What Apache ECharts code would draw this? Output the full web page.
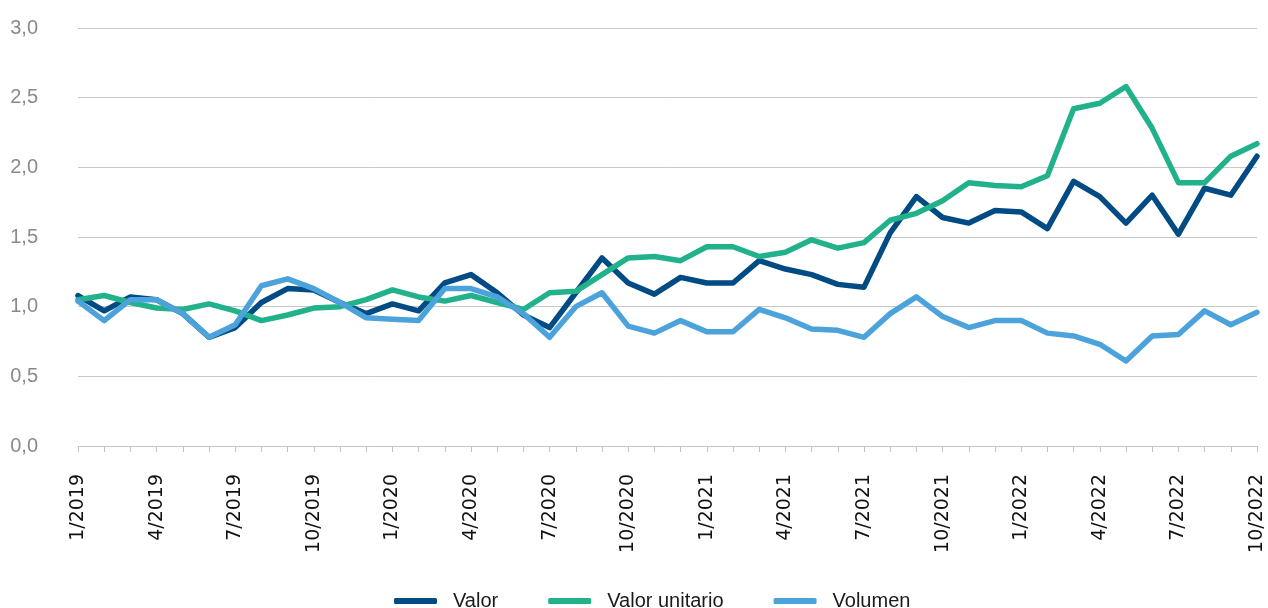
<!DOCTYPE html>
<html>
<head>
<meta charset="utf-8">
<script src="https://cdn.jsdelivr.net/npm/echarts@6/dist/echarts.min.js"></script>
<style>
  html, body { margin: 0; padding: 0; background: #fff; }
  #chart { width: 1268px; height: 608px; }
</style>
</head>
<body>
<div id="chart"></div>
<script>
var months = [
  '1/2019', '2/2019', '3/2019', '4/2019', '5/2019', '6/2019', '7/2019', '8/2019', '9/2019', '10/2019', '11/2019', '12/2019',
  '1/2020', '2/2020', '3/2020', '4/2020', '5/2020', '6/2020', '7/2020', '8/2020', '9/2020', '10/2020', '11/2020', '12/2020',
  '1/2021', '2/2021', '3/2021', '4/2021', '5/2021', '6/2021', '7/2021', '8/2021', '9/2021', '10/2021', '11/2021', '12/2021',
  '1/2022', '2/2022', '3/2022', '4/2022', '5/2022', '6/2022', '7/2022', '8/2022', '9/2022', '10/2022'
];

var valor = [
  1.08, 0.97, 1.07, 1.05, 0.95, 0.78, 0.85, 1.03, 1.13, 1.12, 1.03, 0.95,
  1.02, 0.97, 1.17, 1.23, 1.10, 0.94, 0.85, 1.10, 1.35, 1.17, 1.09, 1.21,
  1.17, 1.17, 1.33, 1.27, 1.23, 1.16, 1.14, 1.53, 1.79, 1.64, 1.60, 1.69,
  1.68, 1.56, 1.90, 1.79, 1.60, 1.80, 1.52, 1.85, 1.80, 2.08
];

var valorUnitario = [
  1.05, 1.08, 1.03, 0.99, 0.98, 1.02, 0.97, 0.90, 0.94, 0.99, 1.00, 1.05,
  1.12, 1.07, 1.04, 1.08, 1.03, 0.98, 1.10, 1.11, 1.23, 1.35, 1.36, 1.33,
  1.43, 1.43, 1.36, 1.39, 1.48, 1.42, 1.46, 1.62, 1.67, 1.76, 1.89, 1.87,
  1.86, 1.94, 2.42, 2.46, 2.58, 2.28, 1.89, 1.89, 2.08, 2.17
];

var volumen = [
  1.04, 0.90, 1.05, 1.05, 0.95, 0.78, 0.87, 1.15, 1.20, 1.13, 1.03, 0.92,
  0.91, 0.90, 1.13, 1.13, 1.07, 0.95, 0.78, 1.00, 1.10, 0.86, 0.81, 0.90,
  0.82, 0.82, 0.98, 0.92, 0.84, 0.83, 0.78, 0.95, 1.07, 0.93, 0.85, 0.90,
  0.90, 0.81, 0.79, 0.73, 0.61, 0.79, 0.80, 0.97, 0.87, 0.96
];

var colors = ['#004b84', '#21b28b', '#4ca3dc'];

var chart = echarts.init(document.getElementById('chart'));

function line(name, data) {
  return {
    name: name,
    type: 'line',
    data: data,
    showSymbol: false,
    symbol: 'none',
    lineStyle: { width: 5.5, cap: 'round', join: 'round' }
  };
}

var option = {
  animation: false,
  color: colors,
  grid: { left: 78, right: 11, top: 28, bottom: 162 },
  legend: {
    left: 389,
    bottom: -8,
    itemWidth: 43,
    itemHeight: 6,
    itemGap: 50,
    icon: 'roundRect',
    textStyle: { fontFamily: 'Liberation Sans', fontSize: 20, color: '#1a1a1a', padding: [0, 0, 0, 11] },
    data: ['Valor', 'Valor unitario', 'Volumen']
  },
  xAxis: {
    type: 'category',
    data: months,
    boundaryGap: false,
    axisLine: { lineStyle: { color: '#c4c4c4', width: 1 } },
    axisTick: { show: true, interval: 0, length: 6, lineStyle: { color: '#c4c4c4' } },
    axisLabel: {
      interval: 2,
      rotate: 90,
      margin: 28,
      fontFamily: 'DejaVu Sans',
      fontSize: 19,
      color: '#111'
    },
    splitLine: { show: false }
  },
  yAxis: {
    type: 'value',
    min: 0,
    max: 3,
    interval: 0.5,
    axisLine: { show: false },
    axisTick: { show: false },
    axisLabel: {
      margin: 40,
      fontFamily: 'Liberation Sans',
      fontSize: 20,
      color: '#8a8a8a',
      formatter: function (v) { return v.toFixed(1).replace('.', ','); }
    },
    splitLine: { lineStyle: { color: '#c8c8c8', width: 1 } }
  },
  series: [
    line('Valor', valor),
    line('Valor unitario', valorUnitario),
    line('Volumen', volumen)
  ]
};

chart.setOption(option);
</script>
</body>
</html>
